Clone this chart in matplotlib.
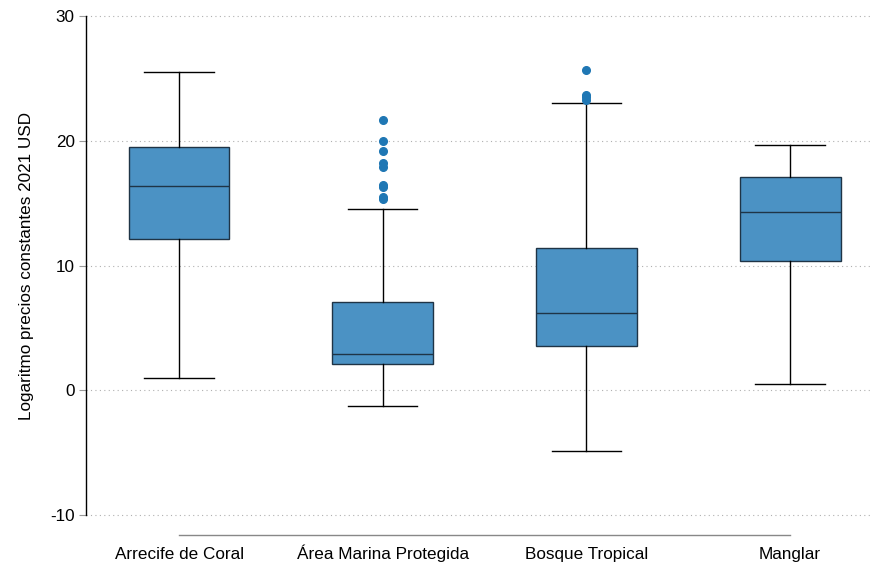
import matplotlib
matplotlib.use("Agg")
import matplotlib.pyplot as plt

categories = ["Arrecife de Coral", "Área Marina Protegida", "Bosque Tropical", "Manglar"]
whisker_low = [0.96, -1.28, -4.89, 0.48]
q1 = [12.1, 2.08, 3.53, 10.34]
median = [16.35, 2.89, 6.17, 14.33]
q3 = [19.48, 7.05, 11.38, 17.09]
whisker_high = [25.5, 14.5, 23.0, 19.65]
outliers = [
    [],
    [21.7, 20.0, 19.2, 18.2, 17.9, 16.5, 16.3, 15.5, 15.3],
    [25.7, 23.7, 23.5, 23.3],
    [],
]
yticks = [-10, 0, 10, 20, 30]
ylabel = "Logaritmo precios constantes 2021 USD"

plt.rcParams['font.family'] = ['Liberation Sans', 'DejaVu Sans']

fig = plt.figure(figsize=(8.72, 5.64), dpi=100)
ax = fig.add_axes([86/872, 29/564, (872-86)/872, (535-13)/564])

stats = []
for i, c in enumerate(categories):
    stats.append(dict(label=c, whislo=whisker_low[i], q1=q1[i], med=median[i],
                      q3=q3[i], whishi=whisker_high[i], fliers=outliers[i]))

positions = list(range(1, len(categories) + 1))
bp = ax.bxp(stats, positions=positions, widths=0.495, patch_artist=True,
            showfliers=True,
            boxprops=dict(facecolor="#4b92c4", edgecolor="#1f3446", linewidth=1.0),
            medianprops=dict(color="#1f3446", linewidth=1.0),
            whiskerprops=dict(color="black", linewidth=1.0),
            capprops=dict(color="black", linewidth=1.0),
            flierprops=dict(marker="o", markerfacecolor="#1f77b4",
                            markeredgecolor="#1f77b4", markersize=5.5),
            capwidths=0.34)

ylo, yhi = -11.6, 30.25
ax.set_xlim(0.543, 4.402)
ax.set_ylim(ylo, yhi)
ax.set_yticks(yticks)
ax.set_yticklabels([str(t) for t in yticks])
ax.set_xticks(positions)
ax.set_xticklabels(categories)

ax.grid(axis="y", linestyle=(0, (1, 3)), color="#b0b0b0", linewidth=0.8)
ax.set_axisbelow(True)

for s in ["top", "right"]:
    ax.spines[s].set_visible(False)
ax.spines["left"].set_bounds(yticks[0], yticks[-1])
ax.spines["left"].set_color("black")
ax.spines["left"].set_linewidth(1.0)
ax.spines["bottom"].set_bounds(positions[0], positions[-1])
ax.spines["bottom"].set_color("#888888")
ax.spines["bottom"].set_linewidth(1.0)

ax.tick_params(axis="y", length=5, color="#999999", labelsize=12.3, pad=3)
ax.tick_params(axis="x", length=0, labelsize=12.3, pad=17.5)
for lab in ax.get_xticklabels():
    lab.set_verticalalignment("baseline")
mid = ((yticks[0] + yticks[-1]) / 2 - ylo) / (yhi - ylo)
ax.set_ylabel(ylabel, fontsize=12.3, labelpad=12, y=mid)

fig.savefig("out.png", dpi=100)
